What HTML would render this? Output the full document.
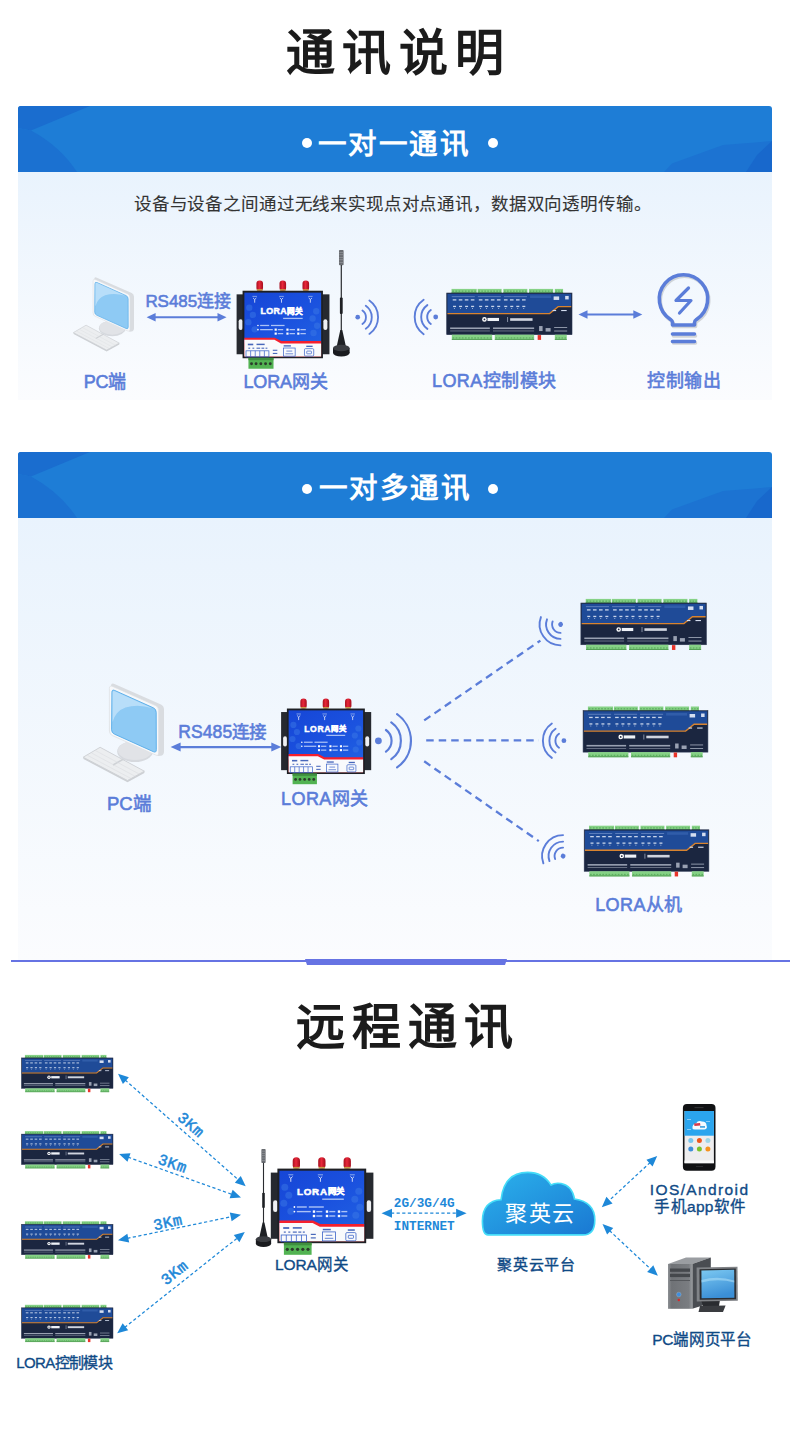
<!DOCTYPE html>
<html lang="zh-CN">
<head>
<meta charset="utf-8">
<style>
html,body{margin:0;padding:0;}
body{width:790px;height:1432px;position:relative;overflow:hidden;background:#fff;font-family:"Liberation Sans",sans-serif;}
.a{position:absolute;white-space:nowrap;}
.title{font-weight:900;color:#1b1b1b;line-height:1;}
.sub{font-weight:500;color:#333;line-height:1;-webkit-text-stroke:0.1px #333;}
.card{position:absolute;left:18px;width:754px;border-radius:3px 3px 0 0;overflow:hidden;}
.hdr{position:absolute;left:0;top:0;width:754px;height:66px;background:#1e7dd6;}
.body1{position:absolute;left:0;top:66px;width:754px;background:linear-gradient(#e9f3fd,#fbfcfe);}
.htxt{color:#fff;font-weight:900;line-height:1;}
.dot{position:absolute;width:10px;height:10px;border-radius:50%;background:#fff;}
.lbl{color:#5b7dd9;font-weight:500;-webkit-text-stroke:0.6px #5b7dd9;line-height:1;}
.lbl2{color:#0f4a86;font-weight:500;-webkit-text-stroke:0.35px #0f4a86;line-height:1;}
</style>
</head>
<body>
<div class="card" style="top:106px;height:294px;">
  <div class="hdr"><svg width="754" height="66" style="position:absolute;left:0;top:0">
      <path d="M0 0 L72 0 L13 24.5 L0 22Z" fill="#1a6dcf"/>
      <path d="M0 22 L13 24.5 Q42 40 59 66 L0 66 Z" fill="#1b71d1"/>
      <path d="M754 35 L705 39 L654 57.5 L646 66 L754 66 Z" fill="#1c73d2"/>
      <path d="M754 35 L739 49 L728 66 L754 66Z" fill="#1868cc"/>
    </svg></div>
  <div class="body1" style="height:228px;"></div>
</div>
<div class="card" style="top:452px;height:508px;">
  <div class="hdr"><svg width="754" height="66" style="position:absolute;left:0;top:0">
      <path d="M0 0 L72 0 L13 24.5 L0 22Z" fill="#1a6dcf"/>
      <path d="M0 22 L13 24.5 Q42 40 59 66 L0 66 Z" fill="#1b71d1"/>
      <path d="M754 35 L705 39 L654 57.5 L646 66 L754 66 Z" fill="#1c73d2"/>
      <path d="M754 35 L739 49 L728 66 L754 66Z" fill="#1868cc"/>
    </svg></div>
  <div class="body1" style="height:442px;"></div>
</div>
<svg class="a" style="left:0;top:0" width="790" height="1432" viewBox="0 0 790 1432"><defs>
<linearGradient id="gwblue" x1="0" y1="0" x2="1" y2="1">
 <stop offset="0" stop-color="#1646d6"/><stop offset="0.5" stop-color="#1a50de"/><stop offset="1" stop-color="#2060e2"/>
</linearGradient>
<linearGradient id="capg" x1="0" y1="0" x2="1" y2="0">
 <stop offset="0" stop-color="#a80f1e"/><stop offset="0.45" stop-color="#e8283a"/><stop offset="1" stop-color="#a50d1c"/>
</linearGradient>
<linearGradient id="cloudg" x1="0" y1="0" x2="1" y2="1">
 <stop offset="0" stop-color="#2bb2ec"/><stop offset="1" stop-color="#1a78d2"/>
</linearGradient>
<symbol id="gw" overflow="visible">
 <rect x="0" y="15.3" width="9" height="66.2" fill="#26292f"/>
 <rect x="2.3" y="42.9" width="4.4" height="11.7" rx="2.2" fill="#eef0f3"/>
 <rect x="93.6" y="15.3" width="9" height="66.2" fill="#26292f"/>
 <rect x="95.9" y="42.9" width="4.4" height="11.7" rx="2.2" fill="#eef0f3"/>
 <g fill="url(#capg)">
  <rect x="21.9" y="0" width="7.3" height="11.5" rx="3.6"/>
  <rect x="47.4" y="0" width="7.3" height="11.5" rx="3.6"/>
  <rect x="72.8" y="0" width="7.3" height="11.5" rx="3.6"/>
 </g>
 <g fill="#c9a24a"><rect x="22.4" y="9.6" width="6.3" height="1.8"/><rect x="47.9" y="9.6" width="6.3" height="1.8"/><rect x="73.3" y="9.6" width="6.3" height="1.8"/></g>
 <rect x="6.6" y="11.3" width="88.8" height="74.6" fill="#1e2025"/>
 <rect x="8.6" y="13.4" width="84.8" height="56" fill="url(#gwblue)"/>
 <g fill="#3b78e6" opacity="0.5">
  <circle cx="14" cy="30" r="3.5"/><circle cx="18" cy="38" r="3.5"/><circle cx="13" cy="46" r="3.5"/><circle cx="20" cy="54" r="3.5"/>
  <circle cx="88" cy="34" r="3.5"/><circle cx="84" cy="42" r="3.5"/><circle cx="89" cy="50" r="3.5"/><circle cx="85" cy="58" r="3.5"/>
 </g>
 <path d="M8.6 63.2 L42.2 63.2 L49.5 66.8 L93.4 66.8 L93.4 84 L8.6 84Z" fill="#f51f2d"/>
 <path d="M8.6 65.6 L41.8 65.6 L49 69.5 L93.4 69.5 L93.4 84 L8.6 84Z" fill="#f9fafc"/>
 <text x="26.3" y="37.5" font-weight="700" fill="#fff" stroke="#fff" stroke-width="0.55" textLength="47.3" lengthAdjust="spacing" font-family="Liberation Sans, sans-serif"><tspan font-size="9.8">LORA</tspan><tspan font-size="8.4" dy="-0.5">网关</tspan></text>
 <rect x="51.4" y="41.2" width="21.6" height="1.4" fill="#c8d8fb" opacity="0.8"/>
 <g fill="#c5d6fb" opacity="0.85">
  <rect x="26" y="49" width="10" height="1.4"/><rect x="38" y="49" width="15" height="1.4"/>
  <rect x="26" y="53.6" width="14" height="1.4"/><rect x="45.5" y="53.6" width="6" height="1.4"/><rect x="58.5" y="53.6" width="6" height="1.4"/><rect x="70.5" y="53.6" width="6" height="1.4"/>
  <rect x="45.5" y="58" width="6" height="1.4"/><rect x="58.5" y="58" width="6" height="1.4"/><rect x="70.5" y="58" width="6" height="1.4"/>
 </g>
 <g fill="#fff">
  <circle cx="23.6" cy="49.7" r="0.9"/><circle cx="23.6" cy="54.3" r="0.9"/>
  <rect x="42" y="53.1" width="2.4" height="2.4"/><rect x="55" y="53.1" width="2.4" height="2.4"/><rect x="67" y="53.1" width="2.4" height="2.4"/>
  <rect x="42" y="57.5" width="2.4" height="2.4"/><rect x="55" y="57.5" width="2.4" height="2.4"/><rect x="67" y="57.5" width="2.4" height="2.4"/>
 </g>
 <g stroke="#fff" stroke-width="0.9" fill="none" opacity="0.9">
  <path d="M18.2 19.3 L20 21 L21.8 19.3 M20 21 V24.5"/>
  <path d="M47.8 19.3 L49.6 21 L51.4 19.3 M49.6 21 V24.5"/>
  <path d="M79.7 19.3 L81.5 21 L83.3 19.3 M81.5 21 V24.5"/>
 </g>
 <g fill="#a9c0f2" opacity="0.8"><rect x="17.5" y="17" width="5" height="1"/><rect x="47" y="17" width="5.2" height="1"/><rect x="79" y="17" width="5" height="1"/></g>
 <g fill="#2a4fb0" opacity="0.85">
  <rect x="12.4" y="69.8" width="6" height="1.8"/><rect x="22" y="69.8" width="9" height="1.6"/>
  <rect x="13" y="74.2" width="2" height="1.2"/><rect x="17.5" y="74.2" width="2" height="1.2"/><rect x="22" y="74.2" width="4" height="1.2"/><rect x="27.5" y="74.2" width="3" height="1.2"/><rect x="32" y="74.2" width="2" height="1.2"/>
  <rect x="52" y="71.5" width="8" height="1.5"/><rect x="77" y="72" width="7" height="1.5"/>
  <rect x="40" y="76.5" width="5" height="1.2"/><rect x="40" y="80" width="5" height="1.2"/>
 </g>
 <g fill="none" stroke="#3b63c8" stroke-width="0.8">
  <rect x="10.4" y="77.7" width="25.3" height="6.7"/>
  <path d="M15.5 77.7V84.4M20.6 77.7V84.4M25.6 77.7V84.4M30.7 77.7V84.4"/>
  <rect x="51.7" y="74.6" width="13" height="9"/>
  <path d="M54 81 h8.5 M55 78 h6.5"/>
  <rect x="75" y="75.3" width="10.2" height="8.2" rx="1.2"/>
  <rect x="77.5" y="78" width="5.2" height="3" rx="0.6"/>
 </g>
 <rect x="13.1" y="85.5" width="27.7" height="12" fill="#52b352"/>
 <rect x="13.1" y="85.5" width="27.7" height="2.5" fill="#3f8f3f"/>
 <g fill="#2b3b2b"><circle cx="16.5" cy="92" r="1.6"/><circle cx="21.5" cy="92" r="1.6"/><circle cx="26.8" cy="92" r="1.6"/><circle cx="32" cy="92" r="1.6"/><circle cx="37.2" cy="92" r="1.6"/></g>
</symbol>
<symbol id="mod" overflow="visible">
 <rect x="4.8" y="0" width="25.1" height="4.6" fill="#86d286"/>
 <rect x="4.8" y="3.4" width="25.1" height="0.9" fill="#3c8a3f" opacity="0.8"/>
 <rect x="5.50" y="1.6" width="1.74" height="1.3" fill="#4f9f52" opacity="0.7"/>
 <rect x="8.64" y="1.6" width="1.74" height="1.3" fill="#4f9f52" opacity="0.7"/>
 <rect x="11.77" y="1.6" width="1.74" height="1.3" fill="#4f9f52" opacity="0.7"/>
 <rect x="14.91" y="1.6" width="1.74" height="1.3" fill="#4f9f52" opacity="0.7"/>
 <rect x="18.05" y="1.6" width="1.74" height="1.3" fill="#4f9f52" opacity="0.7"/>
 <rect x="21.19" y="1.6" width="1.74" height="1.3" fill="#4f9f52" opacity="0.7"/>
 <rect x="24.33" y="1.6" width="1.74" height="1.3" fill="#4f9f52" opacity="0.7"/>
 <rect x="27.46" y="1.6" width="1.74" height="1.3" fill="#4f9f52" opacity="0.7"/>
 <rect x="30.8" y="0" width="23.9" height="4.6" fill="#86d286"/>
 <rect x="30.8" y="3.4" width="23.9" height="0.9" fill="#3c8a3f" opacity="0.8"/>
 <rect x="31.50" y="1.6" width="1.59" height="1.3" fill="#4f9f52" opacity="0.7"/>
 <rect x="34.49" y="1.6" width="1.59" height="1.3" fill="#4f9f52" opacity="0.7"/>
 <rect x="37.48" y="1.6" width="1.59" height="1.3" fill="#4f9f52" opacity="0.7"/>
 <rect x="40.46" y="1.6" width="1.59" height="1.3" fill="#4f9f52" opacity="0.7"/>
 <rect x="43.45" y="1.6" width="1.59" height="1.3" fill="#4f9f52" opacity="0.7"/>
 <rect x="46.44" y="1.6" width="1.59" height="1.3" fill="#4f9f52" opacity="0.7"/>
 <rect x="49.42" y="1.6" width="1.59" height="1.3" fill="#4f9f52" opacity="0.7"/>
 <rect x="52.41" y="1.6" width="1.59" height="1.3" fill="#4f9f52" opacity="0.7"/>
 <rect x="56.4" y="0" width="23.9" height="4.6" fill="#86d286"/>
 <rect x="56.4" y="3.4" width="23.9" height="0.9" fill="#3c8a3f" opacity="0.8"/>
 <rect x="57.10" y="1.6" width="1.59" height="1.3" fill="#4f9f52" opacity="0.7"/>
 <rect x="60.09" y="1.6" width="1.59" height="1.3" fill="#4f9f52" opacity="0.7"/>
 <rect x="63.08" y="1.6" width="1.59" height="1.3" fill="#4f9f52" opacity="0.7"/>
 <rect x="66.06" y="1.6" width="1.59" height="1.3" fill="#4f9f52" opacity="0.7"/>
 <rect x="69.05" y="1.6" width="1.59" height="1.3" fill="#4f9f52" opacity="0.7"/>
 <rect x="72.04" y="1.6" width="1.59" height="1.3" fill="#4f9f52" opacity="0.7"/>
 <rect x="75.02" y="1.6" width="1.59" height="1.3" fill="#4f9f52" opacity="0.7"/>
 <rect x="78.01" y="1.6" width="1.59" height="1.3" fill="#4f9f52" opacity="0.7"/>
 <rect x="82" y="0" width="24" height="4.6" fill="#86d286"/>
 <rect x="82" y="3.4" width="24" height="0.9" fill="#3c8a3f" opacity="0.8"/>
 <rect x="82.70" y="1.6" width="1.60" height="1.3" fill="#4f9f52" opacity="0.7"/>
 <rect x="85.70" y="1.6" width="1.60" height="1.3" fill="#4f9f52" opacity="0.7"/>
 <rect x="88.70" y="1.6" width="1.60" height="1.3" fill="#4f9f52" opacity="0.7"/>
 <rect x="91.70" y="1.6" width="1.60" height="1.3" fill="#4f9f52" opacity="0.7"/>
 <rect x="94.70" y="1.6" width="1.60" height="1.3" fill="#4f9f52" opacity="0.7"/>
 <rect x="97.70" y="1.6" width="1.60" height="1.3" fill="#4f9f52" opacity="0.7"/>
 <rect x="100.70" y="1.6" width="1.60" height="1.3" fill="#4f9f52" opacity="0.7"/>
 <rect x="103.70" y="1.6" width="1.60" height="1.3" fill="#4f9f52" opacity="0.7"/>
 <rect x="107.7" y="0" width="8.2" height="4.6" fill="#86d286"/>
 <rect x="107.7" y="3.4" width="8.2" height="0.9" fill="#3c8a3f" opacity="0.8"/>
 <rect x="108.40" y="1.6" width="1.33" height="1.3" fill="#4f9f52" opacity="0.7"/>
 <rect x="111.13" y="1.6" width="1.33" height="1.3" fill="#4f9f52" opacity="0.7"/>
 <rect x="113.87" y="1.6" width="1.33" height="1.3" fill="#4f9f52" opacity="0.7"/>
 <rect x="0" y="4.1" width="124.8" height="41.5" fill="#1b2640"/>
 <path d="M0.7 4.8 H124.1 V17.4 H111 L102.5 24.3 H0.7Z" fill="#1f4b98"/>
 <path d="M0.7 24.6 H102.5 L111 17.7 H124.1" stroke="#d8832f" stroke-width="1.4" fill="none"/>
 <g fill="#8fa9dc" opacity="0.6">
  <rect x="5" y="7.3" width="23" height="0.9"/><rect x="31" y="7.3" width="23" height="0.9"/><rect x="57" y="7.3" width="23" height="0.9"/>
 </g>
 <rect x="83" y="6.5" width="21" height="2.6" fill="#3561ae" opacity="0.8"/>
 <g fill="#e6edf9" opacity="0.85">
  <rect x="6" y="10.3" width="3.6" height="1.3"/><rect x="12" y="10.3" width="3.6" height="1.3"/><rect x="18" y="10.3" width="3.6" height="1.3"/><rect x="24" y="10.3" width="3.6" height="1.3"/>
  <rect x="32" y="10.3" width="3.6" height="1.3"/><rect x="38" y="10.3" width="3.6" height="1.3"/><rect x="44" y="10.3" width="3.6" height="1.3"/><rect x="50" y="10.3" width="3.6" height="1.3"/>
  <rect x="57" y="10.3" width="3.6" height="1.3"/><rect x="63" y="10.3" width="3.6" height="1.3"/><rect x="69" y="10.3" width="3.6" height="1.3"/><rect x="75" y="10.3" width="3.6" height="1.3"/>
  <rect x="6.3" y="16.8" width="3" height="1.3"/><rect x="12.3" y="16.8" width="3" height="1.3"/><rect x="18.3" y="16.8" width="3" height="1.3"/><rect x="24.3" y="16.8" width="3" height="1.3"/>
  <rect x="32.3" y="16.8" width="3" height="1.3"/><rect x="38.3" y="16.8" width="3" height="1.3"/><rect x="44.3" y="16.8" width="3" height="1.3"/><rect x="50.3" y="16.8" width="3" height="1.3"/>
  <rect x="57.3" y="16.8" width="3" height="1.3"/><rect x="63.3" y="16.8" width="3" height="1.3"/><rect x="69.3" y="16.8" width="3" height="1.3"/><rect x="75.3" y="16.8" width="3" height="1.3"/>
 </g>
 <g fill="#cfdcf3" opacity="0.7">
  <rect x="7.2" y="19" width="1" height="1"/><rect x="13.2" y="19" width="1" height="1"/><rect x="19.2" y="19" width="1" height="1"/><rect x="25.2" y="19" width="1" height="1"/>
  <rect x="33.2" y="19" width="1" height="1"/><rect x="39.2" y="19" width="1" height="1"/><rect x="45.2" y="19" width="1" height="1"/><rect x="51.2" y="19" width="1" height="1"/>
  <rect x="58.2" y="19" width="1" height="1"/><rect x="64.2" y="19" width="1" height="1"/><rect x="70.2" y="19" width="1" height="1"/><rect x="76.2" y="19" width="1" height="1"/>
 </g>
 <g fill="#d5def0"><rect x="106.5" y="7.5" width="5.5" height="3.5"/><rect x="118" y="7" width="3.5" height="3.5"/><rect x="105.5" y="21" width="3.5" height="1.1"/><rect x="114" y="21" width="5.5" height="1.1"/></g>
 <circle cx="37.6" cy="30.4" r="2.3" fill="#fff"/>
 <circle cx="37.6" cy="30.4" r="0.9" fill="#1b2640"/>
 <rect x="40.6" y="28.9" width="11.5" height="3.1" fill="#eef2f8"/>
 <rect x="60.5" y="28" width="0.6" height="5" fill="#c8d0e0"/>
 <rect x="63.2" y="29.2" width="22.3" height="2.6" fill="#e3e8f1" opacity="0.9"/>
 <g fill="#c3cad8" opacity="0.75">
  <rect x="3.4" y="38.4" width="39.6" height="1.6"/><rect x="3.4" y="41.6" width="39.6" height="0.6"/>
  <rect x="46.1" y="38.4" width="41" height="1.6"/><rect x="46.1" y="41.6" width="41" height="0.6"/>
  <rect x="92" y="37" width="3.5" height="5"/><rect x="98.5" y="39" width="5" height="3.5"/>
  <rect x="107" y="38" width="13" height="0.9"/><rect x="107" y="41.5" width="13" height="0.9"/>
 </g>
 <rect x="0" y="4.1" width="124.8" height="41.5" fill="none" stroke="#2a3550" stroke-width="0.6"/>
 <rect x="5.1" y="45.6" width="40.2" height="5.2" fill="#86d286"/>
 <rect x="5.1" y="49.8" width="40.2" height="0.9" fill="#3c8a3f" opacity="0.8"/>
 <rect x="5.80" y="48.2" width="1.69" height="1.3" fill="#4f9f52" opacity="0.7"/>
 <rect x="8.89" y="48.2" width="1.69" height="1.3" fill="#4f9f52" opacity="0.7"/>
 <rect x="11.98" y="48.2" width="1.69" height="1.3" fill="#4f9f52" opacity="0.7"/>
 <rect x="15.08" y="48.2" width="1.69" height="1.3" fill="#4f9f52" opacity="0.7"/>
 <rect x="18.17" y="48.2" width="1.69" height="1.3" fill="#4f9f52" opacity="0.7"/>
 <rect x="21.26" y="48.2" width="1.69" height="1.3" fill="#4f9f52" opacity="0.7"/>
 <rect x="24.35" y="48.2" width="1.69" height="1.3" fill="#4f9f52" opacity="0.7"/>
 <rect x="27.45" y="48.2" width="1.69" height="1.3" fill="#4f9f52" opacity="0.7"/>
 <rect x="30.54" y="48.2" width="1.69" height="1.3" fill="#4f9f52" opacity="0.7"/>
 <rect x="33.63" y="48.2" width="1.69" height="1.3" fill="#4f9f52" opacity="0.7"/>
 <rect x="36.72" y="48.2" width="1.69" height="1.3" fill="#4f9f52" opacity="0.7"/>
 <rect x="39.82" y="48.2" width="1.69" height="1.3" fill="#4f9f52" opacity="0.7"/>
 <rect x="42.91" y="48.2" width="1.69" height="1.3" fill="#4f9f52" opacity="0.7"/>
 <rect x="47.9" y="45.6" width="39.2" height="5.2" fill="#86d286"/>
 <rect x="47.9" y="49.8" width="39.2" height="0.9" fill="#3c8a3f" opacity="0.8"/>
 <rect x="48.60" y="48.2" width="1.62" height="1.3" fill="#4f9f52" opacity="0.7"/>
 <rect x="51.62" y="48.2" width="1.62" height="1.3" fill="#4f9f52" opacity="0.7"/>
 <rect x="54.63" y="48.2" width="1.62" height="1.3" fill="#4f9f52" opacity="0.7"/>
 <rect x="57.65" y="48.2" width="1.62" height="1.3" fill="#4f9f52" opacity="0.7"/>
 <rect x="60.66" y="48.2" width="1.62" height="1.3" fill="#4f9f52" opacity="0.7"/>
 <rect x="63.68" y="48.2" width="1.62" height="1.3" fill="#4f9f52" opacity="0.7"/>
 <rect x="66.69" y="48.2" width="1.62" height="1.3" fill="#4f9f52" opacity="0.7"/>
 <rect x="69.71" y="48.2" width="1.62" height="1.3" fill="#4f9f52" opacity="0.7"/>
 <rect x="72.72" y="48.2" width="1.62" height="1.3" fill="#4f9f52" opacity="0.7"/>
 <rect x="75.74" y="48.2" width="1.62" height="1.3" fill="#4f9f52" opacity="0.7"/>
 <rect x="78.75" y="48.2" width="1.62" height="1.3" fill="#4f9f52" opacity="0.7"/>
 <rect x="81.77" y="48.2" width="1.62" height="1.3" fill="#4f9f52" opacity="0.7"/>
 <rect x="84.78" y="48.2" width="1.62" height="1.3" fill="#4f9f52" opacity="0.7"/>
 <rect x="107.7" y="45.6" width="11.9" height="5.2" fill="#86d286"/>
 <rect x="107.7" y="49.8" width="11.9" height="0.9" fill="#3c8a3f" opacity="0.8"/>
 <rect x="108.40" y="48.2" width="1.58" height="1.3" fill="#4f9f52" opacity="0.7"/>
 <rect x="111.38" y="48.2" width="1.58" height="1.3" fill="#4f9f52" opacity="0.7"/>
 <rect x="114.35" y="48.2" width="1.58" height="1.3" fill="#4f9f52" opacity="0.7"/>
 <rect x="117.33" y="48.2" width="1.58" height="1.3" fill="#4f9f52" opacity="0.7"/>
 <rect x="90.6" y="46" width="3.4" height="4.8" fill="#e8342a"/>
</symbol>
<symbol id="pc" overflow="visible">
 <path d="M5.2 79.2 L22.1 69.3 L66.4 93.2 L49.5 102.5Z" fill="#eceef0" stroke="#d0d3d7" stroke-width="1" stroke-linejoin="round"/>
 <path d="M5.2 79.2 L5.5 81 L49.5 104.3 L66.4 95 L66.4 93.2 L49.5 102.5Z" fill="#cdd0d4"/>
 <path d="M35 87 L51 78" stroke="#cfd2d6" stroke-width="1.6"/>
 <g stroke="#d9dbdf" stroke-width="0.5">
  <path d="M9.5 77.3 L53.5 100.8 M13.5 75 L57.5 98.5 M17.5 72.6 L61.5 96.2"/>
 </g>
 <ellipse cx="57" cy="73.5" rx="17.8" ry="10.5" fill="#d6d9de"/>
 <ellipse cx="57" cy="72.5" rx="17" ry="9.5" fill="#e1e3e7"/>
 <path d="M33 8 Q33 4.5 36.5 6 L83 26.5 Q86 28 86 31.5 L86 73.5 Q86 77.5 82.5 77.8 L80.6 78 L34 57 Q31.4 55.8 31.4 52.5 Z" fill="#d9dce0"/>
 <path d="M31.4 10.5 Q31.4 7 34.6 8.4 L77.6 27.6 Q80.6 29 80.6 32.3 L80.6 75 Q80.6 78.3 77.6 77 L34.4 57.6 Q31.4 56.3 31.4 53 Z" fill="#f7f8fa" stroke="#dcdfe3" stroke-width="0.7"/>
 <path d="M33.9 14.2 Q33.9 11.2 36.8 12.5 L75.3 29.8 Q78.2 31.1 78.2 34.3 L78.3 71.8 Q78.3 75 75.4 73.7 L36.6 56.2 Q33.6 54.9 33.6 51.8Z" fill="#8ecaf4" stroke="#56abe9" stroke-width="0.9"/>
 <path d="M34.6 14.3 Q34.6 12.2 36.9 13.2 L74.5 30.2 Q60 25.5 47.5 29.5 Q37.5 33 34.6 44Z" fill="#bde0f9" opacity="0.9"/>
</symbol>
<symbol id="wv" overflow="visible">
 <circle cx="0" cy="0" r="2.4" fill="#5b7dd9"/>
 <path d="M4.88 -6.96A8.5 8.5 0 0 1 4.88 6.96M8.32 -11.88A14.5 14.5 0 0 1 8.32 11.88M12.05 -17.20A21 21 0 0 1 12.05 17.20" stroke="#5b7dd9" stroke-width="1.9" fill="none" stroke-linecap="round"/>
</symbol>
<symbol id="wv2" overflow="visible">
 <circle cx="0" cy="0" r="2.2" fill="#5b7dd9"/>
 <path d="M4.88 -6.96A8.5 8.5 0 0 1 4.88 6.96M8.32 -11.88A14.5 14.5 0 0 1 8.32 11.88M12.05 -17.20A21 21 0 0 1 12.05 17.20" stroke="#5b7dd9" stroke-width="1.4" fill="none" stroke-linecap="round"/>
</symbol>
<symbol id="ant" overflow="visible">
 <rect x="-2.3" y="0" width="4.6" height="15.3" rx="0.8" fill="#6a6d72"/>
 <g fill="#9a9da2"><rect x="-2" y="2" width="4" height="0.6"/><rect x="-2" y="4.5" width="4" height="0.6"/><rect x="-2" y="7" width="4" height="0.6"/><rect x="-2" y="9.5" width="4" height="0.6"/><rect x="-2" y="12" width="4" height="0.6"/></g>
 <rect x="-0.6" y="15" width="1.2" height="70" fill="#2a2c30"/>
 <rect x="-1.4" y="47.5" width="2.8" height="16.5" rx="1" fill="#1e2024"/>
 <path d="M-1 80 L1 80 L4.5 96 L-4.5 96Z" fill="#1e2024"/>
 <rect x="-8.3" y="98" width="16.6" height="5" fill="#1a1b1f"/>
 <ellipse cx="0" cy="103" rx="8.3" ry="3.4" fill="#1a1b1f"/>
 <ellipse cx="0" cy="98" rx="8.3" ry="3.2" fill="#3a3c41"/>
</symbol>
</defs><use href="#pc" transform="translate(69.5 273.2) scale(0.75)"/>
<line x1="154.60" y1="317.20" x2="218.50" y2="317.20" stroke="#5b7dd9" stroke-width="2"/>
<polygon points="146.60,317.20 155.60,321.45 155.60,317.20 155.60,312.95" fill="#5b7dd9"/>
<polygon points="226.50,317.20 217.50,321.45 217.50,317.20 217.50,312.95" fill="#5b7dd9"/>
<use href="#ant" transform="translate(341.3 250) scale(1.0)"/>
<use href="#gw" transform="translate(236.6 280.5) scale(0.905)"/>
<use href="#wv" transform="translate(357.7 317.2) scale(0.97)"/>
<use href="#wv" transform="translate(435.7 317) rotate(180)"/>
<use href="#mod" transform="translate(446.7 288.9) scale(1.004)"/>
<line x1="586.50" y1="314.60" x2="634.30" y2="314.60" stroke="#5b7dd9" stroke-width="2"/>
<polygon points="578.50,314.60 587.50,318.85 587.50,314.60 587.50,310.35" fill="#5b7dd9"/>
<polygon points="642.30,314.60 633.30,318.85 633.30,314.60 633.30,310.35" fill="#5b7dd9"/>
<g transform="translate(1 1.5)" opacity="0.18"><path d="M672.5 325 V322.5 Q672.5 320.8 670.5 319.4 A24.2 24.2 0 1 1 696.5 319.4 Q694.5 320.8 694.5 322.5 V325 Z" fill="none" stroke="#333" stroke-width="3.6" stroke-linejoin="round"/><path d="M672.5 334.5 H694.5 M672.5 341.5 H694.5" stroke="#333" stroke-width="3.6" stroke-linecap="round"/></g>
<path d="M672.5 325 V322.5 Q672.5 320.8 670.5 319.4 A24.2 24.2 0 1 1 696.5 319.4 Q694.5 320.8 694.5 322.5 V325 Z" fill="none" stroke="#5b7dd9" stroke-width="3.6" stroke-linejoin="round"/>
<path d="M672.5 334 H694.5 M672.5 341.5 H694.5" stroke="#5b7dd9" stroke-width="3.6" stroke-linecap="round"/>
<path d="M688.5 288 L676 300.5 H691 L679.5 313" fill="none" stroke="#5b7dd9" stroke-width="3.2" stroke-linecap="round" stroke-linejoin="round"/>
<use href="#pc" transform="translate(78 678)"/>
<line x1="179.60" y1="747.10" x2="272.30" y2="747.10" stroke="#5b7dd9" stroke-width="2.2"/>
<polygon points="170.60,747.10 180.60,751.60 180.60,747.10 180.60,742.60" fill="#5b7dd9"/>
<polygon points="281.30,747.10 271.30,751.60 271.30,747.10 271.30,742.60" fill="#5b7dd9"/>
<use href="#gw" transform="translate(281.1 698.6) scale(0.878)"/>
<use href="#wv2" transform="translate(378.4 740.8) scale(1.55)"/>
<g stroke="#5b7dd9" stroke-width="2.3" stroke-dasharray="7.5 5" fill="none"><path d="M424.2 720.4 L540.4 640.6"/><path d="M426.2 740.3 L538.8 740.3"/><path d="M424.2 761.3 L538.8 841.1"/></g>
<use href="#wv" transform="translate(560.6 624.4) rotate(145.4)"/>
<use href="#wv" transform="translate(563.9 740.7) rotate(180)"/>
<use href="#wv" transform="translate(563.1 856.1) rotate(214.9)"/>
<use href="#mod" transform="translate(580.9 598.9) scale(1.005)"/>
<use href="#mod" transform="translate(583.1 706.5)"/>
<use href="#mod" transform="translate(584.2 825.7) scale(0.999)"/>
<use href="#mod" transform="translate(21.4 1054.9) scale(0.734)"/>
<use href="#mod" transform="translate(21.4 1131.1) scale(0.734)"/>
<use href="#mod" transform="translate(21.4 1221.3) scale(0.734)"/>
<use href="#mod" transform="translate(21.4 1304.8) scale(0.734)"/>
<use href="#ant" transform="translate(263.5 1149) scale(0.92)"/>
<use href="#gw" transform="translate(270.8 1157.3)"/>
<line x1="125.13" y1="1079.98" x2="238.57" y2="1180.02" stroke="#1e88d8" stroke-width="1.25" stroke-dasharray="3.2 2.4"/>
<polygon points="118.00,1073.70 122.90,1084.02 125.88,1080.64 128.85,1077.27" fill="#1e88d8"/>
<polygon points="245.70,1186.30 234.85,1182.73 237.82,1179.36 240.80,1175.98" fill="#1e88d8"/>
<line x1="128.05" y1="1157.20" x2="232.05" y2="1194.40" stroke="#1e88d8" stroke-width="1.25" stroke-dasharray="3.2 2.4"/>
<polygon points="119.10,1154.00 127.47,1161.77 128.99,1157.54 130.50,1153.30" fill="#1e88d8"/>
<polygon points="241.00,1197.60 229.60,1198.30 231.11,1194.06 232.63,1189.83" fill="#1e88d8"/>
<line x1="127.30" y1="1238.36" x2="231.70" y2="1216.64" stroke="#1e88d8" stroke-width="1.25" stroke-dasharray="3.2 2.4"/>
<polygon points="118.00,1240.30 129.20,1242.57 128.28,1238.16 127.36,1233.75" fill="#1e88d8"/>
<polygon points="241.00,1214.70 231.64,1221.25 230.72,1216.84 229.80,1212.43" fill="#1e88d8"/>
<line x1="124.64" y1="1327.40" x2="237.36" y2="1238.00" stroke="#1e88d8" stroke-width="1.25" stroke-dasharray="3.2 2.4"/>
<polygon points="117.20,1333.30 128.22,1330.30 125.43,1326.78 122.63,1323.25" fill="#1e88d8"/>
<polygon points="244.80,1232.10 239.37,1242.15 236.57,1238.62 233.78,1235.10" fill="#1e88d8"/>
<line x1="391.00" y1="1213.20" x2="457.10" y2="1213.20" stroke="#1e88d8" stroke-width="1.25" stroke-dasharray="3.2 2.4"/>
<polygon points="381.50,1213.20 392.00,1217.70 392.00,1213.20 392.00,1208.70" fill="#1e88d8"/>
<polygon points="466.60,1213.20 456.10,1217.70 456.10,1213.20 456.10,1208.70" fill="#1e88d8"/>
<line x1="650.23" y1="1162.45" x2="608.77" y2="1200.85" stroke="#1e88d8" stroke-width="1.25" stroke-dasharray="3.2 2.4"/>
<polygon points="657.20,1156.00 646.44,1159.83 649.50,1163.13 652.55,1166.44" fill="#1e88d8"/>
<polygon points="601.80,1207.30 606.45,1196.86 609.50,1200.17 612.56,1203.47" fill="#1e88d8"/>
<line x1="609.45" y1="1230.58" x2="650.95" y2="1269.32" stroke="#1e88d8" stroke-width="1.25" stroke-dasharray="3.2 2.4"/>
<polygon points="602.50,1224.10 607.11,1234.55 610.18,1231.26 613.25,1227.97" fill="#1e88d8"/>
<polygon points="657.90,1275.80 647.15,1271.93 650.22,1268.64 653.29,1265.35" fill="#1e88d8"/>
<text x="0" y="5" transform="translate(191 1124.8) rotate(41.4)" font-size="15.5" font-weight="400" stroke="#1e88d8" stroke-width="0.5" fill="#1e88d8" text-anchor="middle" letter-spacing="0.6" font-family="Liberation Mono, monospace">3Km</text>
<text x="0" y="5" transform="translate(172.7 1163.5) rotate(19.7)" font-size="15.5" font-weight="400" stroke="#1e88d8" stroke-width="0.5" fill="#1e88d8" text-anchor="middle" letter-spacing="0.6" font-family="Liberation Mono, monospace">3Km</text>
<text x="0" y="5" transform="translate(167.9 1222.3) rotate(-11.8)" font-size="15.5" font-weight="400" stroke="#1e88d8" stroke-width="0.5" fill="#1e88d8" text-anchor="middle" letter-spacing="0.6" font-family="Liberation Mono, monospace">3Km</text>
<text x="0" y="5" transform="translate(174.6 1272.6) rotate(-38.4)" font-size="15.5" font-weight="400" stroke="#1e88d8" stroke-width="0.5" fill="#1e88d8" text-anchor="middle" letter-spacing="0.6" font-family="Liberation Mono, monospace">3Km</text>
<text x="424.3" y="1207.2" font-size="12.7" font-weight="700" fill="#1e88d8" text-anchor="middle" font-family="Liberation Mono, monospace">2G/3G/4G</text>
<text x="424.3" y="1230" font-size="12.7" font-weight="700" fill="#1e88d8" text-anchor="middle" font-family="Liberation Mono, monospace">INTERNET</text>
<g transform="translate(475 1165)">
<path d="M13 69.9 Q7.4 69.9 7.4 56 Q7.6 36 26 34.8 Q29 7.4 52.7 7.4 Q68 7.4 76 20 Q80 17.5 86 18.5 Q97 20.5 99.5 34 Q119.8 37 119.8 55 Q119.8 69.9 108 69.9Z" fill="url(#cloudg)" stroke="#44dcf8" stroke-width="1.6"/>
<text x="65.5" y="55.8" font-size="22" fill="#fff" text-anchor="middle" letter-spacing="1.5" font-family="Liberation Sans, sans-serif">聚英云</text>
</g>
<g>
<rect x="682.9" y="1104" width="32.6" height="66.8" rx="4" fill="#111214"/>
<rect x="684.5" y="1111" width="29.4" height="52.2" fill="#ededee"/>
<rect x="684.5" y="1160.5" width="29.4" height="2.7" fill="#fafafa"/>
<rect x="684.5" y="1111" width="29.4" height="24.7" fill="#2ba5ee"/>
<path d="M692.5 1128.5 Q692 1124 696 1123.5 Q698 1120 702 1121.5 Q706.5 1121.5 706.5 1125.5 Q708 1128.5 704.5 1129.6 L695 1129.6 Q692.5 1129.5 692.5 1128.5Z" fill="#fff" opacity="0.95"/>
<path d="M694 1123.5 L700 1123 L700.5 1125.5 L694.5 1126Z" fill="#d63a4a"/>
<rect x="700" y="1126" width="5" height="1.8" fill="#4fa8e0"/>
<g fill="#d4ecfb" opacity="0.7"><rect x="687" y="1119" width="4" height="0.8"/><rect x="706" y="1121" width="4" height="0.8"/><rect x="687" y="1129" width="4" height="0.8"/></g>
<circle cx="690.8" cy="1140.4" r="2.5" fill="#78c6ee"/><circle cx="699.4" cy="1140.4" r="2.5" fill="#f0561c"/><circle cx="707.9" cy="1140.4" r="2.5" fill="#9fd6e6"/>
<circle cx="690.8" cy="1149" r="2.5" fill="#3d8fd8"/><circle cx="699.4" cy="1149" r="2.5" fill="#7cc22a"/><circle cx="707.9" cy="1149" r="2.5" fill="#f6921e"/>
<rect x="694.5" y="1107.2" width="9" height="0.9" fill="#3a3b3e"/>
<rect x="696" y="1166" width="7" height="1" fill="#2a2b2e"/>
</g>
<g>
<linearGradient id="twf" x1="0" y1="0" x2="1" y2="0"><stop offset="0" stop-color="#8d9094"/><stop offset="0.15" stop-color="#6f7276"/><stop offset="0.85" stop-color="#7a7d81"/><stop offset="1" stop-color="#96999d"/></linearGradient>
<linearGradient id="scr" x1="0" y1="0" x2="0.3" y2="1"><stop offset="0" stop-color="#7cc9f2"/><stop offset="1" stop-color="#3b8fd6"/></linearGradient>
<path d="M668 1264 L686 1257.5 L710.8 1257.5 L692.3 1264Z" fill="#9a9da1"/>
<path d="M692.3 1264 L710.8 1257.5 L710.8 1303 L692.3 1308.8Z" fill="#4a4d52"/>
<rect x="668" y="1264" width="24.3" height="44.8" fill="url(#twf)"/>
<rect x="670" y="1268.5" width="20" height="3.3" fill="#45484c"/>
<rect x="670" y="1273.8" width="20" height="3.3" fill="#45484c"/>
<rect x="670" y="1280" width="20" height="1" fill="#55585c"/>
<circle cx="678.8" cy="1294.5" r="2.3" fill="#3d8ee0" stroke="#9ab" stroke-width="0.5"/>
<circle cx="678.8" cy="1300" r="1.2" fill="#d8262a"/>
<path d="M701 1300 L720 1300 L719 1306 L703 1306Z" fill="#2a2c30"/>
<path d="M700 1306 L725.6 1305.5 L723 1311.9 L698.5 1311.9Z" fill="#3a3c40"/>
<path d="M696.6 1267.5 L737.5 1266.7 L737.8 1300.8 L696.8 1301.5Z" fill="#808387"/>
<path d="M699.5 1269.3 L735.8 1268.5 L736 1299.2 L699.7 1299.8Z" fill="#2b2d31"/>
<path d="M701.4 1270.5 L734.2 1269.8 L734.4 1297.8 L701.6 1298.3Z" fill="url(#scr)"/>
<path d="M701.4 1280 Q718 1275.5 734.3 1280.5 L734.3 1282.5 Q718 1278 701.5 1282.5Z" fill="#a9dcf6" opacity="0.6"/>
</g></svg>
<div class="dot" style="left:302px;top:138px;"></div>
<div class="dot" style="left:488px;top:138px;"></div>

<div class="dot" style="left:302px;top:484px;"></div>
<div class="dot" style="left:488px;top:484px;"></div>

<div class="a" style="left:11px;top:960px;width:779px;height:2px;background:#6673e3;"></div>
<svg class="a" style="left:305px;top:958px;" width="203" height="8"><path d="M0 1 L202 1 L200 7 L2 7 Z" fill="#6673e3"/></svg>


<div class="a fit title" style="left:286.20px;top:29.00px;font-size:49px;letter-spacing:7.20px;">通讯说明</div>
<div class="a fit title" style="left:296.20px;top:1002.80px;font-size:49px;letter-spacing:7.08px;">远程通讯</div>
<div class="a fit htxt" style="left:318.00px;top:129.50px;font-size:28.5px;letter-spacing:1.45px;">一对一通讯</div>
<div class="a fit htxt" style="left:318.60px;top:474.05px;font-size:28.5px;letter-spacing:1.52px;">一对多通讯</div>
<div class="a fit sub" style="left:133.90px;top:196.05px;font-size:17.5px;letter-spacing:0.85px;">设备与设备之间通过无线来实现点对点通讯，数据双向透明传输。</div>
<div class="a fit lbl" style="left:145.40px;top:293.01px;font-size:17px;letter-spacing:-0.06px;">RS485连接</div>
<div class="a fit lbl" style="left:83.80px;top:373.01px;font-size:18px;letter-spacing:-0.42px;">PC端</div>
<div class="a fit lbl" style="left:243.40px;top:372.54px;font-size:18px;letter-spacing:-0.13px;">LORA网关</div>
<div class="a fit lbl" style="left:432.00px;top:372.29px;font-size:18px;letter-spacing:0.43px;">LORA控制模块</div>
<div class="a fit lbl" style="left:646.80px;top:372.29px;font-size:18px;letter-spacing:0.78px;">控制输出</div>
<div class="a fit lbl" style="left:178.20px;top:723.50px;font-size:17.5px;letter-spacing:0.12px;">RS485连接</div>
<div class="a fit lbl" style="left:107.00px;top:794.77px;font-size:18.5px;letter-spacing:-0.06px;">PC端</div>
<div class="a fit lbl" style="left:281.00px;top:790.31px;font-size:18px;letter-spacing:0.44px;">LORA网关</div>
<div class="a fit lbl" style="left:595.20px;top:895.81px;font-size:18px;letter-spacing:0.41px;">LORA从机</div>
<div class="a fit lbl2" style="left:275.00px;top:1257.48px;font-size:15.5px;letter-spacing:-0.10px;">LORA网关</div>
<div class="a fit lbl2" style="left:16.20px;top:1355.17px;font-size:15px;letter-spacing:-0.63px;">LORA控制模块</div>
<div class="a fit lbl2" style="left:497.40px;top:1257.10px;font-size:15px;letter-spacing:0.62px;">聚英云平台</div>
<div class="a fit lbl2" style="left:649.80px;top:1182.46px;font-size:15.5px;letter-spacing:1.38px;">IOS/Android</div>
<div class="a fit lbl2" style="left:654.20px;top:1199.01px;font-size:15.5px;letter-spacing:0.36px;">手机app软件</div>
<div class="a fit lbl2" style="left:652.20px;top:1331.96px;font-size:15.5px;letter-spacing:-0.27px;">PC端网页平台</div>

</body>
</html>
